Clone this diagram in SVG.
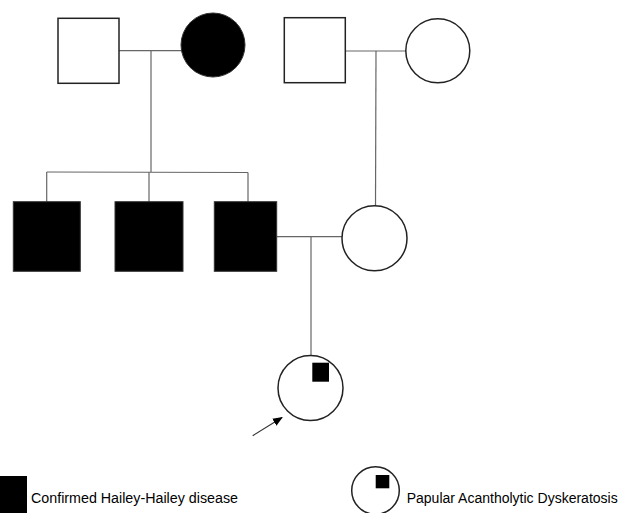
<svg xmlns="http://www.w3.org/2000/svg" width="628" height="513" viewBox="0 0 628 513">
<style>
.o{fill:#fff;stroke:#222;stroke-width:1.5}
.f{fill:#000;stroke:#333;stroke-width:1}
.c{fill:none;stroke:#666;stroke-width:1.2}
.t{font-family:"Liberation Sans",Arial,sans-serif;font-size:14px;fill:#000}
</style>
<defs>
<marker id="ah" markerWidth="10" markerHeight="10" refX="9" refY="5" orient="auto" markerUnits="userSpaceOnUse">
<path d="M0,1 L10,5 L0,9 z" fill="#000"/>
</marker>
</defs>
<rect width="628" height="513" fill="#fff"/>
<g id="connectors">
<line class="c" x1="119" y1="50.7" x2="181" y2="50.7"/>
<line class="c" x1="151" y1="50.7" x2="151" y2="172"/>
<line class="c" x1="46.7" y1="172" x2="248" y2="172.5"/>
<line class="c" x1="46.7" y1="172" x2="46.7" y2="202"/>
<line class="c" x1="149" y1="172" x2="149" y2="202"/>
<line class="c" x1="248" y1="172.5" x2="248" y2="202"/>
<line class="c" x1="345" y1="51" x2="406" y2="51"/>
<line class="c" x1="376" y1="51" x2="375.5" y2="206"/>
<line class="c" x1="277" y1="236.7" x2="342" y2="236.7"/>
<line class="c" x1="311" y1="236.7" x2="311" y2="355.5"/>
<line x1="252.7" y1="435.7" x2="282" y2="417.5" stroke="#333" stroke-width="1.2" marker-end="url(#ah)"/>
</g>
<g id="gf"><rect class="o" x="58" y="18.3" width="61" height="65"/></g>
<g id="gm"><circle class="f" cx="213" cy="45" r="32"/></g>
<g id="mf"><rect class="o" x="284.3" y="17.7" width="61" height="65"/></g>
<g id="mm"><circle class="o" cx="437.8" cy="50.8" r="32"/></g>
<g id="s1"><rect class="f" x="13.3" y="201.7" width="67" height="69.6"/></g>
<g id="s2"><rect class="f" x="115" y="201.7" width="68" height="69.6"/></g>
<g id="father"><rect class="f" x="214.3" y="201.7" width="62.4" height="69.6"/></g>
<g id="mother"><circle class="o" cx="374.5" cy="238.3" r="32.5"/></g>
<g id="proband"><circle class="o" cx="310.5" cy="388" r="32.5"/><rect fill="#000" x="312.3" y="362.7" width="16.7" height="19"/></g>
<g id="legend1"><rect fill="#000" x="0" y="476" width="27" height="37"/><text class="t" x="31" y="502.7" textLength="207" lengthAdjust="spacingAndGlyphs">Confirmed Hailey-Hailey disease</text></g>
<g id="legend2"><circle class="o" cx="375.5" cy="490.5" r="23.8"/><rect fill="#000" x="375.7" y="475" width="13.6" height="13.3"/><text class="t" x="406.7" y="502.7" textLength="211" lengthAdjust="spacingAndGlyphs">Papular Acantholytic Dyskeratosis</text></g>
</svg>
